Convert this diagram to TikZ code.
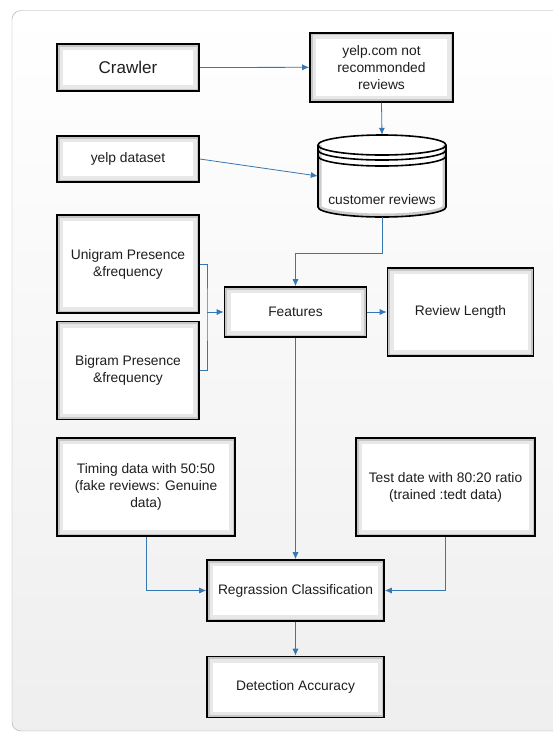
\documentclass[tikz,border=0pt]{standalone}
\usepackage{fontspec}
\setmainfont{Liberation Sans}
\usepackage{xcolor}
\usetikzlibrary{arrows.meta}
\definecolor{linkblue}{RGB}{52,119,178}
\definecolor{framegray}{RGB}{165,165,165}
\definecolor{txtgray}{RGB}{30,30,30}

\begin{document}
\begin{tikzpicture}[x=1pt,y=-1pt,
  box/.style={draw=black,line width=1.6pt,fill=white,align=center,inner sep=2pt,
    text=txtgray,font=\fontsize{13.8}{17}\selectfont,
    path picture={
      \draw[gray!18,line width=12pt] (path picture bounding box.south west) rectangle (path picture bounding box.north east);
      \draw[gray!45,line width=5pt] (path picture bounding box.south west) rectangle (path picture bounding box.north east);}},
  link/.style={draw=linkblue,line width=0.8pt,-{Latex[length=7pt,width=6pt]}},
  bracket/.style={draw=linkblue,line width=0.8pt}]
\clip (0,0) rectangle (553,740);
\draw[framegray,rounded corners=9pt,top color=white,bottom color=gray!13] (12,10.5) rectangle (600,731);

\node[box,minimum width=142,minimum height=47,font=\fontsize{17}{20}\selectfont] (crawler) at (128,67.5) {Crawler};
\node[box,minimum width=143,minimum height=69] (yelpcom) at (381.5,67.3) {yelp.com not\\recommonded\\reviews};
\node[box,minimum width=142,minimum height=46] (dataset) at (128,159) {yelp dataset};

\node[minimum width=128,minimum height=82,inner sep=0] (cust) at (382,176) {};
\draw[line width=1.6pt,fill=white,
  path picture={\draw[gray!40,line width=7pt] (318,145) -- (318,207) arc[start angle=180,end angle=360,x radius=64pt,y radius=10pt] -- (446,145);}]
  (318,145) -- (318,207) arc[start angle=180,end angle=360,x radius=64pt,y radius=10pt]
  -- (446,145) arc[start angle=0,end angle=180,x radius=64pt,y radius=10pt] -- cycle;
\draw[line width=1.6pt] (318,145) arc[start angle=180,end angle=360,x radius=64pt,y radius=10pt];
\draw[line width=1.6pt] (318,150) arc[start angle=180,end angle=360,x radius=64pt,y radius=10pt];
\draw[line width=1.6pt] (318,156) arc[start angle=180,end angle=360,x radius=64pt,y radius=10pt];
\node[text=txtgray,font=\fontsize{13.8}{17}\selectfont] (custtext) at (382,200) {customer reviews};

\node[box,minimum width=142,minimum height=98] (unigram) at (128,264) {Unigram Presence\\\&frequency};
\node[box,minimum width=142,minimum height=98] (bigram) at (128,370.5) {Bigram Presence\\\&frequency};
\node[box,minimum width=142,minimum height=50] (features) at (295.5,312) {Features};
\node[box,minimum width=146,minimum height=88] (revlen) at (460.5,312) {Review Length};
\node[box,minimum width=178,minimum height=98] (timing) at (146,487) {Timing data with 50:50\\(fake reviews: Genuine\\data)};
\node[box,minimum width=179,minimum height=98] (testdata) at (445.5,487) {Test date with 80:20 ratio\\(trained :tedt data)};
\node[box,minimum width=177,minimum height=61] (regclass) at (295.5,590.5) {Regrassion Classification};
\node[box,minimum width=177,minimum height=61] (detect) at (295.5,687) {Detection Accuracy};
\coordinate (fjoin) at (207,312);

\draw[link] (crawler.east) -- (yelpcom.west);
\draw[link] (yelpcom.south) -- (cust.north);
\draw[link] (dataset.east) -- (cust.west);
\draw[link] (cust.south) -- ++(0,36) -| (features.north);
\draw[bracket] (unigram.east) -| (fjoin) |- (bigram.east);
\draw[link] (fjoin) -- (features.west);
\draw[link] (features.east) -- (revlen.west);
\draw[link] (features.south) -- (regclass.north);
\draw[link] (timing.south) |- (regclass.west);
\draw[link] (testdata.south) |- (regclass.east);
\draw[link] (regclass.south) -- (detect.north);
\end{tikzpicture}
\end{document}
